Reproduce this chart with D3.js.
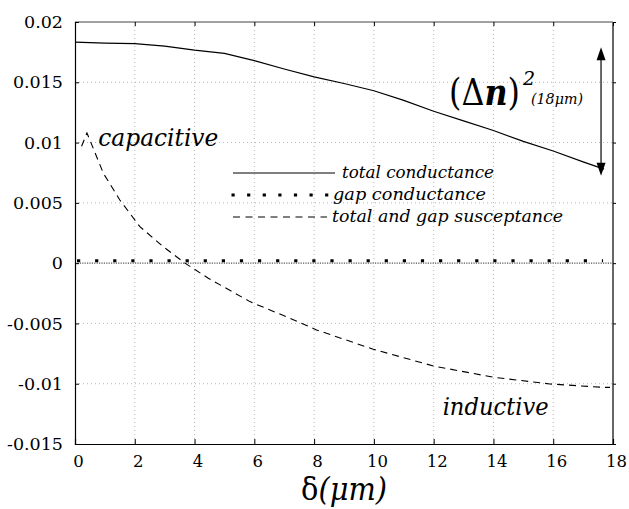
<!DOCTYPE html>
<html>
<head>
<meta charset="utf-8">
<script src="https://cdn.jsdelivr.net/npm/d3@7"></script>
<style>
  html, body { margin: 0; padding: 0; background: #fff; }
  svg { display: block; }
</style>
</head>
<body>
<svg id="chart" width="629" height="509"></svg>
<script>
// ---------- data ----------
const xTicks = [0, 2, 4, 6, 8, 10, 12, 14, 16, 18];
const yTicks = [-0.015, -0.01, -0.005, 0, 0.005, 0.01, 0.015, 0.02];
const yTickLabels = ["-0.015", "-0.01", "-0.005", "0", "0.005", "0.01", "0.015", "0.02"];

const totalCondX = [0, 1, 2, 3, 4, 5, 6, 7, 8, 9, 10, 11, 12, 13, 14, 15, 16, 17, 17.7];
const totalCondY = [0.01833, 0.01825, 0.0182, 0.0180, 0.01767, 0.0174, 0.0168, 0.0161, 0.01545, 0.0149, 0.0143, 0.0135, 0.0126, 0.0118, 0.0110, 0.0101, 0.0093, 0.0084, 0.0078];

const gapCondX = [0, 17.6];
const gapCondY = [0.0002, 0.0002];

const suscX = [0.22, 0.4, 0.95, 1.5, 2.17, 2.95, 3.68, 4.46, 5.85, 7.19, 8.08, 9.98, 11.99, 13.99, 15.89, 17.67, 17.9];
const suscY = [0.0097, 0.0108, 0.00745, 0.00524, 0.00303, 0.00137, 0.0, -0.00125, -0.00319, -0.00457, -0.00554, -0.00714, -0.00853, -0.00946, -0.01002, -0.0103, -0.0103];

const legendLabels = ["total conductance", "gap conductance", "total and gap susceptance"];
const xTitle = ["δ", "(μm)"];
const regionLabels = [
  { text: "capacitive", x: 0.78, y: 0.0097 },
  { text: "inductive", x: 12.3, y: -0.0126 }
];
// (Δn)^2 arrow annotation, in data units
const arrowX = 17.6;
const arrowY = [0.0179, 0.00725];

// ---------- layout ----------
const FONT = "'DejaVu Serif', 'Liberation Serif', serif";
const svg = d3.select("#chart");
const x = d3.scaleLinear().domain([0, 18]).range([75, 613]);
const y = d3.scaleLinear().domain([-0.015, 0.02]).range([444, 22]);

function fitTo(sel, widths) {
  sel.each(function (d, i) {
    const w = typeof widths === "function" ? widths(d, i, this) : widths;
    d3.select(this).attr("textLength", w).attr("lengthAdjust", "spacingAndGlyphs");
  });
}
function txt(sel) { return sel.style("font-family", FONT).attr("fill", "#000"); }

// gridlines
const grid = svg.append("g");
grid.selectAll("line.gy").data(yTicks.filter(v => v > -0.015 && v < 0.02 && v !== 0)).join("line")
  .attr("x1", x(0)).attr("x2", x(18))
  .attr("y1", d => y(d)).attr("y2", d => y(d))
  .attr("stroke", "#b8b8b8").attr("stroke-width", 1).attr("stroke-dasharray", "1,3");
grid.selectAll("line.gx").data(xTicks.filter(v => v > 0 && v < 18)).join("line")
  .attr("x1", d => x(d)).attr("x2", d => x(d))
  .attr("y1", y(0.02)).attr("y2", y(-0.015))
  .attr("stroke", "#b8b8b8").attr("stroke-width", 1).attr("stroke-dasharray", "1,3");

// zero reference line (denser dots)
svg.append("line")
  .attr("x1", x(0)).attr("x2", x(18)).attr("y1", y(0)).attr("y2", y(0))
  .attr("stroke", "#555").attr("stroke-width", 1.2).attr("stroke-dasharray", "1.2,1.2");

// frame
svg.append("line").attr("x1", x(0)).attr("x2", x(18)).attr("y1", y(0.02)).attr("y2", y(0.02))
  .attr("stroke", "#444").attr("stroke-width", 1);
svg.append("line").attr("x1", x(18)).attr("x2", x(18)).attr("y1", y(0.02)).attr("y2", y(-0.015))
  .attr("stroke", "#666").attr("stroke-width", 2);

// axes
const yAxis = svg.append("g").attr("transform", `translate(${x(0)},0)`)
  .call(d3.axisLeft(y).tickValues(yTicks).tickSize(-4).tickPadding(12)
    .tickFormat((d, i) => yTickLabels[i]));
yAxis.attr("font-family", null);
yAxis.select(".domain").attr("stroke", "#000").attr("stroke-width", 1.2);
txt(yAxis.selectAll("text")).style("font-size", "17.5px");

const yAxisR = svg.append("g").attr("transform", `translate(${x(18)},0)`)
  .call(d3.axisRight(y).tickValues(yTicks).tickSize(3).tickFormat(""));
yAxisR.select(".domain").remove();

const xAxis = svg.append("g").attr("transform", `translate(0,${y(-0.015)})`)
  .call(d3.axisBottom(x).tickValues(xTicks).tickSize(-5).tickPadding(11));
xAxis.attr("font-family", null);
xAxis.select(".domain").attr("stroke", "#000").attr("stroke-width", 1.2);
txt(xAxis.selectAll("text")).style("font-size", "16.5px").attr("dx", 3);

const xAxisT = svg.append("g").attr("transform", `translate(0,${y(0.02)})`)
  .call(d3.axisTop(x).tickValues(xTicks).tickSize(-4).tickFormat(""));
xAxisT.select(".domain").remove();

// series
const lineGen = d3.line().x(d => x(d[0])).y(d => y(d[1]));
const total = totalCondX.map((v, i) => [v, totalCondY[i]]);
const gap = gapCondX.map((v, i) => [v, gapCondY[i]]);
const susc = suscX.map((v, i) => [v, suscY[i]]);

svg.append("path").datum(total).attr("d", lineGen)
  .attr("fill", "none").attr("stroke", "#000").attr("stroke-width", 1.2);
svg.append("path").datum(gap).attr("d", lineGen)
  .attr("fill", "none").attr("stroke", "#000").attr("stroke-width", 3.2)
  .attr("stroke-dasharray", "3.2,14.9").attr("transform", "translate(2,0)");
svg.append("path").datum(susc).attr("d", lineGen)
  .attr("fill", "none").attr("stroke", "#000").attr("stroke-width", 1.1)
  .attr("stroke-dasharray", "7,5");

// legend
const lg = svg.append("g");
const lgX0 = 233, lgX1 = 335, lgY0 = 173, lgDY = 22;
lg.append("line").attr("x1", lgX0).attr("x2", lgX1).attr("y1", lgY0).attr("y2", lgY0)
  .attr("stroke", "#000").attr("stroke-width", 1.2);
lg.append("line").attr("x1", lgX0 - 1.5).attr("x2", lgX1 - 6).attr("y1", lgY0 + lgDY).attr("y2", lgY0 + lgDY)
  .attr("stroke", "#000").attr("stroke-width", 3.2).attr("stroke-dasharray", "3.2,12.4");
lg.append("line").attr("x1", lgX0).attr("x2", lgX1 - 8).attr("y1", lgY0 + 2 * lgDY).attr("y2", lgY0 + 2 * lgDY)
  .attr("stroke", "#000").attr("stroke-width", 1.1).attr("stroke-dasharray", "7,5.5");
const lgText = txt(lg.selectAll("text").data(legendLabels).join("text"))
  .attr("x", (d, i) => [342, 333, 332][i])
  .attr("y", (d, i) => lgY0 + 5 + i * lgDY)
  .style("font-size", "17px").style("font-style", "italic")
  .text(d => d);
fitTo(lgText, (d, i) => [152, 153, 231][i]);

// region labels
const rl = txt(svg.selectAll("text.region").data(regionLabels).join("text"))
  .attr("class", "region")
  .attr("x", d => x(d.x)).attr("y", d => y(d.y))
  .style("font-size", "25px").style("font-style", "italic")
  .text(d => d.text);
fitTo(rl, (d, i) => [120, 106][i]);

// x-axis title
const xt = txt(svg.append("text")).attr("x", 344).attr("y", 500).attr("text-anchor", "middle")
  .style("font-size", "31px");
xt.append("tspan").text(xTitle[0]);
xt.append("tspan").style("font-style", "italic").text(xTitle[1]);
fitTo(xt, 86);

// (Δn)^2 annotation
const ann = svg.append("g");
const atg = ann.append("g").attr("transform", "translate(449,105) scale(0.86,1)");
const at = txt(atg.append("text")).attr("x", 0).attr("y", 0).style("font-size", "37px");
at.append("tspan").text("(Δ");
at.append("tspan").style("font-style", "italic").style("font-weight", "bold").text("n");
at.append("tspan").text(")");
txt(ann.append("text")).attr("x", 523).attr("y", 85).style("font-size", "19px").style("font-style", "italic").text("2");
const subg = ann.append("g").attr("transform", "translate(531,104) scale(0.95,1)");
txt(subg.append("text")).attr("x", 0).attr("y", 0).style("font-size", "15px").style("font-style", "italic").text("(18μm)");

// double arrow
const ax = x(arrowX), ay1 = y(arrowY[0]), ay2 = y(arrowY[1]);
ann.append("line").attr("x1", ax).attr("x2", ax).attr("y1", ay1 + 8).attr("y2", ay2 - 8)
  .attr("stroke", "#444").attr("stroke-width", 1.6);
ann.append("path").attr("d", `M${ax},${ay1} L${ax - 4.5},${ay1 + 13} L${ax + 4.5},${ay1 + 13} Z`).attr("fill", "#000");
ann.append("path").attr("d", `M${ax},${ay2} L${ax - 4.5},${ay2 - 13} L${ax + 4.5},${ay2 - 13} Z`).attr("fill", "#000");
</script>
</body>
</html>
